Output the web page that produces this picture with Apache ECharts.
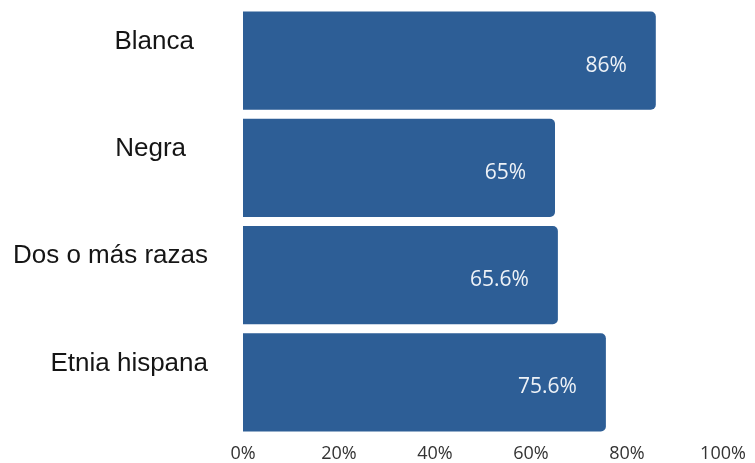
<!DOCTYPE html>
<html>
<head>
<meta charset="utf-8">
<script src="https://cdn.jsdelivr.net/npm/echarts@6/dist/echarts.min.js"></script>
<style>
  html, body { margin: 0; padding: 0; background: #fff; }
  #chart { width: 755px; height: 463px; }
</style>
</head>
<body>
<div id="chart"></div>
<script>
const categories = ['Blanca', 'Negra', 'Dos o más razas', 'Etnia hispana']
const values = [86, 65, 65.6, 75.6]
const xTicks = [0, 20, 40, 60, 80, 100]

// extra right padding so the short labels sit like the original
const labelPad = { Blanca: 14, Negra: 22 }

const chart = echarts.init(document.getElementById('chart'), null, { renderer: 'canvas' })

chart.setOption({
  animation: false,
  grid: { left: 243, right: 32, top: 7, bottom: 25.5 },
  xAxis: {
    type: 'value',
    min: xTicks[0],
    max: xTicks[xTicks.length - 1],
    interval: xTicks[1] - xTicks[0],
    axisLine: { show: false },
    axisTick: { show: false },
    splitLine: { show: false },
    axisLabel: {
      formatter: '{value}%',
      color: '#333',
      fontFamily: 'Open Sans',
      fontSize: 18,
      margin: 9,
    },
  },
  yAxis: {
    type: 'category',
    data: categories,
    inverse: true,
    axisLine: { show: false },
    axisTick: { show: false },
    axisLabel: {
      margin: 35,
      formatter: (v) => labelPad[v] ? `{t|${v}}{p${labelPad[v]}|}` : `{t|${v}}`,
      rich: {
        t: {
          color: '#151515',
          fontFamily: 'Liberation Sans',
          fontSize: 26,
          padding: [0, 0, 38, 0],
        },
        p14: { width: 14 },
        p22: { width: 22 },
      },
    },
  },
  series: [{
    type: 'bar',
    data: values,
    barCategoryGap: '8.5%',
    itemStyle: {
      color: '#2d5e96',
      borderRadius: [0, 5, 5, 0],
    },
    label: {
      show: true,
      position: 'insideRight',
      distance: 29,
      offset: [0, 5],
      color: '#eef2f7',
      fontFamily: 'Open Sans',
      fontSize: 21,
      formatter: (p) => `${p.value}%`,
    },
  }],
})
</script>
</body>
</html>
